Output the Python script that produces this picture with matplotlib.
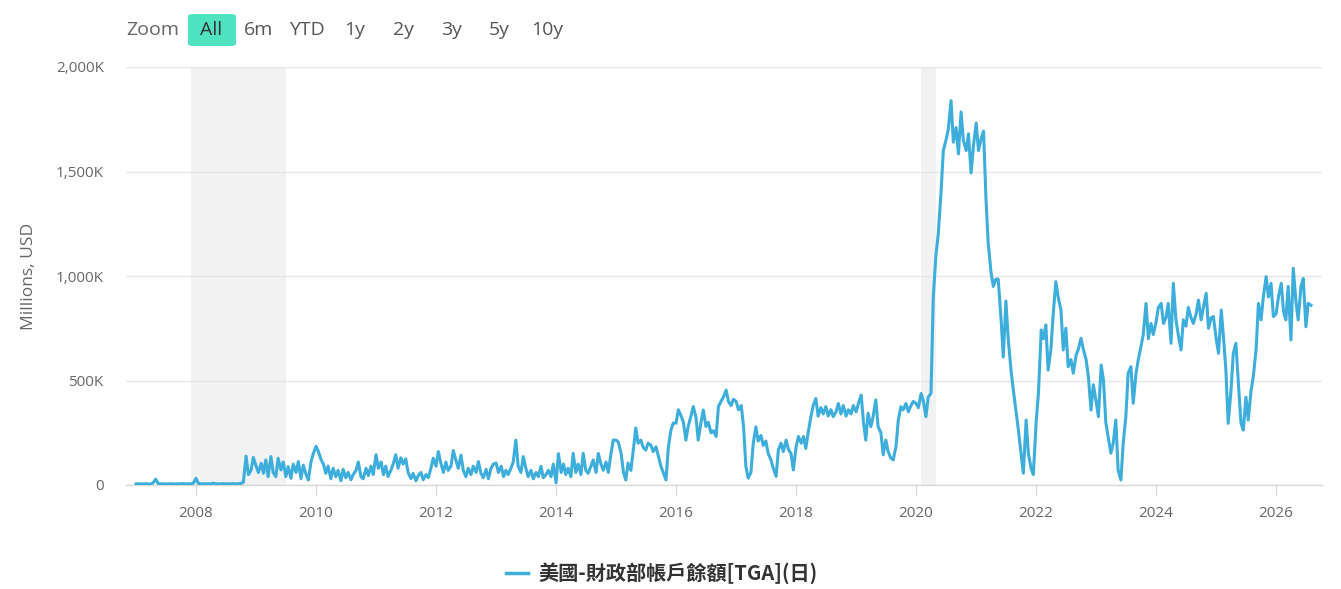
import numpy as np
import pandas as pd
import matplotlib
matplotlib.use("Agg")
import matplotlib.pyplot as plt
import matplotlib.dates as mdates
from matplotlib.patches import FancyBboxPatch
from datetime import datetime

# semi-monthly readings (1st and 15th of each month), thousands of millions USD
v2007 = [5, 6, 5, 5, 6, 5, 5, 10, 28, 8, 5, 6, 5, 5, 6, 5, 5, 6, 5, 7, 5, 6, 5, 8]
v2008 = [32, 8, 5, 6, 5, 7, 5, 9, 5, 6, 5, 7, 5, 6, 5, 7, 5, 6, 8, 12, 138, 50, 70, 132]
v2009 = [90, 60, 104, 56, 120, 40, 136, 60, 40, 128, 72, 110, 40, 88, 32, 100, 60, 112, 30, 95, 50, 24, 110, 150]
v2010 = [185, 160, 120, 100, 56, 90, 30, 80, 40, 70, 20, 75, 35, 60, 25, 50, 70, 110, 40, 30, 80, 45, 90, 50]
v2011 = [145, 80, 110, 50, 90, 40, 70, 100, 145, 80, 130, 100, 125, 60, 30, 55, 20, 45, 60, 25, 50, 35, 80, 128]
v2012 = [90, 160, 100, 60, 110, 70, 90, 165, 120, 80, 143, 70, 40, 80, 50, 90, 60, 112, 55, 35, 75, 30, 80, 100]
v2013 = [105, 60, 90, 40, 70, 50, 80, 110, 215, 90, 60, 136, 80, 40, 70, 30, 60, 40, 90, 35, 50, 70, 40, 100]
v2014 = [10, 150, 60, 100, 50, 80, 40, 151, 60, 100, 50, 151, 70, 56, 90, 120, 60, 151, 100, 70, 110, 60, 150, 215]
v2015 = [215, 205, 150, 60, 24, 105, 70, 160, 273, 200, 215, 180, 167, 200, 190, 160, 183, 140, 90, 60, 24, 180, 263, 296]
v2016 = [296, 360, 330, 300, 215, 280, 330, 375, 327, 215, 300, 359, 280, 300, 250, 260, 232, 375, 400, 420, 454, 400, 380, 410]
v2017 = [400, 360, 380, 279, 90, 33, 60, 200, 278, 210, 237, 190, 210, 150, 120, 80, 41, 168, 200, 160, 215, 170, 150, 72]
v2018 = [183, 232, 200, 232, 175, 250, 327, 380, 414, 330, 370, 340, 375, 330, 360, 327, 350, 390, 340, 380, 330, 360, 340, 380]
v2019 = [350, 390, 430, 300, 215, 343, 279, 330, 407, 279, 250, 144, 215, 160, 128, 120, 185, 311, 375, 360, 390, 350, 380, 400]
v2020 = [390, 370, 438, 400, 327, 420, 440, 900, 1100, 1200, 1400, 1600, 1650, 1700, 1839, 1640, 1710, 1584, 1785, 1650, 1600, 1680, 1493, 1620]
v2021 = [1732, 1600, 1660, 1693, 1380, 1160, 1020, 950, 985, 985, 800, 612, 880, 700, 550, 455, 350, 263, 150, 57, 311, 150, 80, 50]
v2022 = [300, 440, 742, 700, 766, 550, 650, 820, 973, 900, 837, 646, 750, 566, 600, 535, 620, 650, 702, 650, 600, 518, 359, 480]
v2023 = [400, 327, 574, 500, 300, 231, 152, 200, 311, 72, 24, 200, 327, 535, 566, 391, 535, 600, 662, 720, 869, 700, 773, 720]
v2024 = [780, 850, 869, 773, 800, 869, 678, 965, 790, 720, 646, 790, 760, 850, 800, 773, 820, 885, 790, 850, 917, 750, 800, 806]
v2025 = [700, 630, 837, 700, 550, 295, 450, 630, 678, 500, 295, 263, 420, 311, 450, 520, 650, 869, 790, 900, 997, 900, 965, 806]
v2026 = [820, 900, 965, 830, 790, 950, 694, 1037, 880, 790, 950, 988, 757, 869, 860]

recessions = [("2007-12-01", "2009-06-30"), ("2020-02-01", "2020-04-30")]
year_ticks = list(range(2008, 2027, 2))
series_name = "美國-財政部帳戶餘額[TGA](日)"
buttons = ["All", "6m", "YTD", "1y", "2y", "3y", "5y", "10y"]

values = (v2007 + v2008 + v2009 + v2010 + v2011 + v2012 + v2013 + v2014 + v2015 + v2016
          + v2017 + v2018 + v2019 + v2020 + v2021 + v2022 + v2023 + v2024 + v2025 + v2026)
dates = pd.date_range("2007-01-01", periods=len(values), freq="SMS")

LINE = "#3daedb"
GRID = "#e6e6e6"
TXT = "#666666"
plt.rcParams["font.family"] = ["Open Sans", "DejaVu Sans"]

W, H = 1341, 589
fig = plt.figure(figsize=(W / 100, H / 100), dpi=100)
ax = fig.add_axes([126 / W, 1 - 485 / H, (1322 - 126) / W, (485 - 67) / H])

for a, b in recessions:
    ax.axvspan(pd.Timestamp(a), pd.Timestamp(b), color="#f2f2f2", lw=0, zorder=0)

ax.plot(dates, values, color=LINE, lw=2.2, zorder=3)

ax.set_xlim(datetime(2006, 11, 1), datetime(2026, 10, 7))
ax.set_ylim(0, 2000)
ax.set_yticks([0, 500, 1000, 1500, 2000])
ax.set_yticklabels(["0", "500K", "1,000K", "1,500K", "2,000K"])
ax.set_xticks([datetime(y, 1, 1) for y in year_ticks])
ax.set_xticklabels([str(y) for y in year_ticks])

ax.grid(axis="y", color=GRID, lw=1, zorder=1)
for s in ["top", "right", "left"]:
    ax.spines[s].set_visible(False)
ax.spines["bottom"].set_color("#d8d8d8")
ax.spines["bottom"].set_linewidth(1)
ax.tick_params(axis="x", length=7, width=1, color="#d8d8d8", colors=TXT, labelsize=11, pad=8)
ax.tick_params(axis="y", length=0, colors=TXT, labelsize=11, pad=16)
ax.set_ylabel("Millions, USD", color=TXT, fontsize=12.5)
ax.yaxis.set_label_coords(-(126 - 37) / (1322 - 126), 0.5)

# range selector
fig.text(126 / W, 1 - 30 / H, "Zoom", color=TXT, fontsize=14, va="center", ha="left")
btn = FancyBboxPatch((188 / W, 1 - 46 / H), 48 / W, 32 / H,
                     boxstyle="round,pad=0,rounding_size=0.004",
                     transform=fig.transFigure, fc="#50e3c2", ec="none")
fig.patches.append(btn)
for i, b in enumerate(buttons):
    fig.text((211 + 48 * i) / W, 1 - 30 / H, b, color="#333333" if i == 0 else "#555555",
             fontsize=14, va="center", ha="center")

# legend
fig.add_artist(plt.Line2D([506 / W, 528 / W], [1 - 573 / H, 1 - 573 / H],
                          transform=fig.transFigure, color=LINE, lw=2.5))
fig.text(538 / W, 1 - 573 / H, series_name, color="#333333", fontsize=14.5,
         fontweight="bold", va="center", ha="left",
         family=["Noto Sans CJK TC", "DejaVu Sans"])

fig.savefig("out.png", dpi=100)
